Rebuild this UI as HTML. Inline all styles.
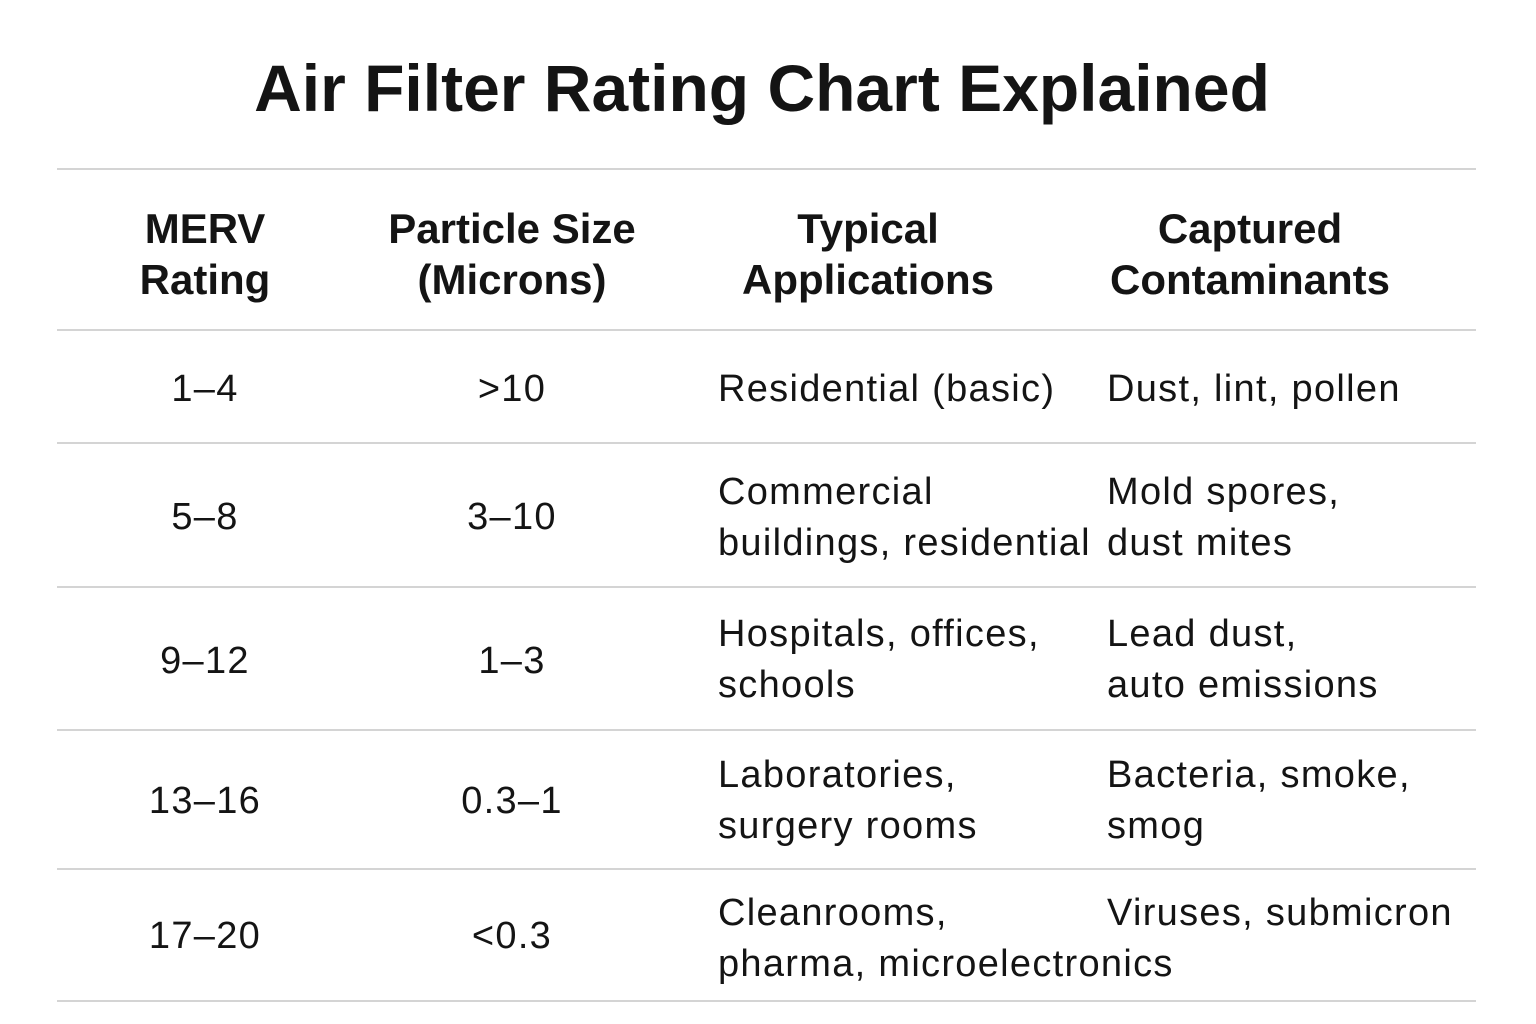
<!DOCTYPE html>
<html><head><meta charset="utf-8"><style>
body{margin:0;width:1536px;height:1024px;background:#fff;position:relative;overflow:hidden;font-family:"Liberation Sans","DejaVu Sans",sans-serif;color:#141414}
.t{position:absolute;white-space:nowrap;line-height:1}
.h{font-weight:bold;font-size:42px;text-align:center}
.b{font-size:38px;letter-spacing:1.3px}
.c{text-align:center;width:300px}
.l{position:absolute;left:57px;width:1419px;height:2px;background:#d4d4d4}
</style></head><body>
<div class="t" style="left:0;width:1524px;text-align:center;top:55px;font-size:66px;font-weight:bold">Air Filter Rating Chart Explained</div>
<div class="l" style="top:168px"></div>
<div class="l" style="top:329px"></div>
<div class="l" style="top:442px"></div>
<div class="l" style="top:586px"></div>
<div class="l" style="top:729px"></div>
<div class="l" style="top:868px"></div>
<div class="l" style="top:1000px"></div>

<div class="t h" style="left:55px;width:300px;top:203px;line-height:51px">MERV<br>Rating</div>
<div class="t h" style="left:362px;width:300px;top:203px;line-height:51px">Particle Size<br>(Microns)</div>
<div class="t h" style="left:718px;width:300px;top:203px;line-height:51px">Typical<br>Applications</div>
<div class="t h" style="left:1100px;width:300px;top:203px;line-height:51px">Captured<br>Contaminants</div>

<div class="t b c" style="left:55px;top:370px">1–4</div>
<div class="t b c" style="left:362px;top:370px">&gt;10</div>
<div class="t b" style="left:718px;top:370px">Residential (basic)</div>
<div class="t b" style="left:1107px;top:370px">Dust, lint, pollen</div>

<div class="t b c" style="left:55px;top:498px">5–8</div>
<div class="t b c" style="left:362px;top:498px">3–10</div>
<div class="t b" style="left:718px;top:467px;line-height:51px">Commercial<br>buildings, residential</div>
<div class="t b" style="left:1107px;top:467px;line-height:51px">Mold spores,<br>dust mites</div>

<div class="t b c" style="left:55px;top:642px">9–12</div>
<div class="t b c" style="left:362px;top:642px">1–3</div>
<div class="t b" style="left:718px;top:609px;line-height:51px">Hospitals, offices,<br>schools</div>
<div class="t b" style="left:1107px;top:609px;line-height:51px">Lead dust,<br>auto emissions</div>

<div class="t b c" style="left:55px;top:782px">13–16</div>
<div class="t b c" style="left:362px;top:782px">0.3–1</div>
<div class="t b" style="left:718px;top:750px;line-height:51px">Laboratories,<br>surgery rooms</div>
<div class="t b" style="left:1107px;top:750px;line-height:51px">Bacteria, smoke,<br>smog</div>

<div class="t b c" style="left:55px;top:917px">17–20</div>
<div class="t b c" style="left:362px;top:917px">&lt;0.3</div>
<div class="t b" style="left:718px;top:888px;line-height:51px">Cleanrooms,<br>pharma, microelectronics</div>
<div class="t b" style="left:1107px;top:888px;line-height:51px">Viruses, submicron</div>
</body></html>
